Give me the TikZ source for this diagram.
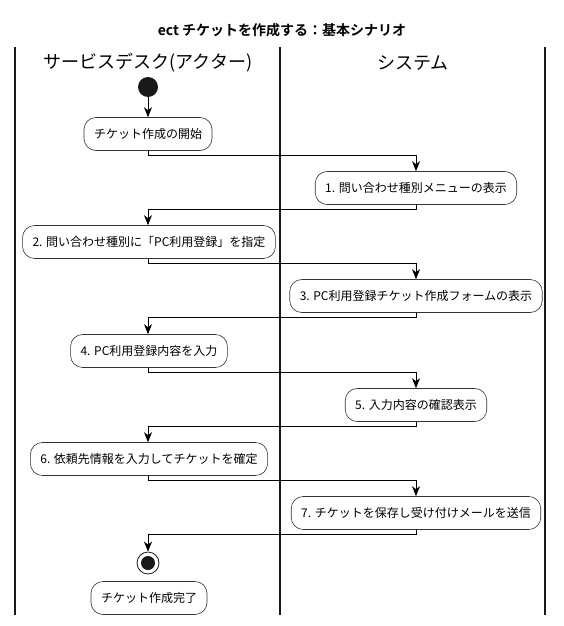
\documentclass[tikz,border=0pt]{standalone}
\usepackage{fontspec}
\setmainfont{Noto Sans CJK JP}[BoldFont={Noto Sans CJK JP Bold}]
\usetikzlibrary{arrows.meta}
\begin{document}
\begin{tikzpicture}[x=1pt,y=-1pt,
  lane/.style={line width=1.3pt,color=black!90},
  act/.style={draw=black!80,line width=0.6pt,rounded corners=12pt,fill=white,
    minimum height=33pt,inner xsep=10pt,inner ysep=0pt,font=\fontsize{12}{14}\selectfont},
  hdr/.style={font=\fontsize{18}{20}\selectfont},
  arr/.style={line width=0.8pt,-{Stealth[length=10pt,width=8pt,inset=3pt]}},
  ]
\useasboundingbox (0,0) rectangle (564,626);
% title
\node[font=\bfseries\fontsize{14}{16}\selectfont] (title) at (282,30) {ect チケットを作成する：基本シナリオ};
% lanes
\coordinate (l1t) at (15,47); \coordinate (l1b) at (15,615);
\coordinate (l2t) at (280,47); \coordinate (l2b) at (280,615);
\coordinate (l3t) at (545,47); \coordinate (l3b) at (545,615);
\draw[lane] (l1t) -- (l1b);
\draw[lane] (l2t) -- (l2b);
\draw[lane] (l3t) -- (l3b);
\node[hdr] (h1) at (148,63) {サービスデスク(アクター)};
\node[hdr] (h2) at (413,63) {システム};
% nodes
\node[circle,fill=black!90,minimum size=20pt,inner sep=0pt] (start) at (148,87) {};
\node[act] (a0) at (148,134) {チケット作成の開始};
\node[act] (a1) at (416,188) {1. 問い合わせ種別メニューの表示};
\node[act] (a2) at (149,242) {2. 問い合わせ種別に「PC利用登録」を指定};
\node[act] (a3) at (416,296) {3. PC利用登録チケット作成フォームの表示};
\node[act] (a4) at (149,351) {4. PC利用登録内容を入力};
\node[act] (a5) at (416,405) {5. 入力内容の確認表示};
\node[act] (a6) at (149,459) {6. 依頼先情報を入力してチケットを確定};
\node[act] (a7) at (416,513) {7. チケットを保存し受け付けメールを送信};
\node[circle,draw=black!90,line width=0.8pt,fill=white,minimum size=22pt,inner sep=0pt] (stop) at (148,563) {};
\node[circle,fill=black!90,minimum size=14pt,inner sep=0pt] (stopin) at (stop) {};
\node[act] (done) at (149,598) {チケット作成完了};
% connectors
\draw[arr] (start) -- (a0);
\draw[arr] (a0.south) -- ++(0,5) -| (a1.north);
\draw[arr] (a1.south) -- ++(0,5) -| ([xshift=-1pt]a2.north);
\draw[arr] ([xshift=-1pt]a2.south) -- ++(0,5) -| (a3.north);
\draw[arr] (a3.south) -- ++(0,5) -| ([xshift=-1pt]a4.north);
\draw[arr] ([xshift=-1pt]a4.south) -- ++(0,5) -| (a5.north);
\draw[arr] (a5.south) -- ++(0,5) -| ([xshift=-1pt]a6.north);
\draw[arr] ([xshift=-1pt]a6.south) -- ++(0,5) -| (a7.north);
\draw[arr] (a7.south) -- ++(0,5) -| (stop.north);
\end{tikzpicture}
\end{document}
